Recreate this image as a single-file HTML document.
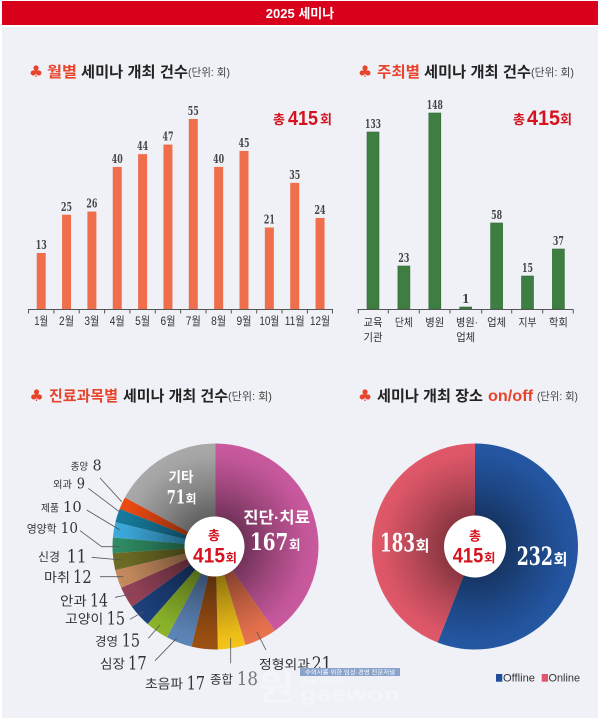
<!DOCTYPE html>
<html><head><meta charset="utf-8"><style>
html,body{margin:0;padding:0;background:#fff;}
svg{display:block;}
.kr{font-family:"Liberation Sans","Noto Sans CJK KR",sans-serif;}
.num{font-family:"DejaVu Serif Condensed","DejaVu Serif","Liberation Serif",serif;}
</style></head><body>
<svg width="600" height="718" viewBox="0 0 600 718" xmlns="http://www.w3.org/2000/svg">
<defs>
<radialGradient id="shL" gradientUnits="userSpaceOnUse" cx="215.5" cy="546.5" r="103">
<stop offset="0" stop-color="#000" stop-opacity="0.5"/>
<stop offset="0.3" stop-color="#000" stop-opacity="0.42"/>
<stop offset="0.6" stop-color="#000" stop-opacity="0.2"/>
<stop offset="0.88" stop-color="#000" stop-opacity="0.03"/>
<stop offset="1" stop-color="#000" stop-opacity="0"/>
</radialGradient>
<radialGradient id="shR" gradientUnits="userSpaceOnUse" cx="475" cy="546.5" r="103">
<stop offset="0" stop-color="#000" stop-opacity="0.5"/>
<stop offset="0.3" stop-color="#000" stop-opacity="0.38"/>
<stop offset="0.6" stop-color="#000" stop-opacity="0.18"/>
<stop offset="0.9" stop-color="#000" stop-opacity="0.02"/>
<stop offset="1" stop-color="#000" stop-opacity="0"/>
</radialGradient>
</defs>

<!-- background -->
<rect x="0" y="0" width="600" height="718" fill="#ffffff"/>
<rect x="2" y="1" width="596" height="24" fill="#d9001b"/>
<rect x="2" y="27" width="596" height="691" fill="#eff1f7"/>
<text x="300" y="18" text-anchor="middle" class="kr" font-size="13" font-weight="700" fill="#fff">2025 세미나</text>

<!-- ===== Titles ===== -->
<g class="kr" font-weight="700">
<text x="36" y="77" text-anchor="middle" font-family="DejaVu Sans,sans-serif" font-size="16" fill="#e8432b">♣</text>
<text x="47" y="77" font-size="15" fill="#e8432b" textLength="30" lengthAdjust="spacingAndGlyphs">월별</text>
<text x="81" y="77" font-size="15" fill="#222" textLength="107" lengthAdjust="spacingAndGlyphs">세미나 개최 건수</text>
<text x="188" y="76" font-size="11" font-weight="400" fill="#444" textLength="42" lengthAdjust="spacingAndGlyphs">(단위: 회)</text>

<text x="365" y="77" text-anchor="middle" font-family="DejaVu Sans,sans-serif" font-size="16" fill="#e8432b">♣</text>
<text x="377" y="77" font-size="15" fill="#e8432b" textLength="43" lengthAdjust="spacingAndGlyphs">주최별</text>
<text x="424" y="77" font-size="15" fill="#222" textLength="107" lengthAdjust="spacingAndGlyphs">세미나 개최 건수</text>
<text x="531" y="76" font-size="11" font-weight="400" fill="#444" textLength="43" lengthAdjust="spacingAndGlyphs">(단위: 회)</text>

<text x="36.5" y="401" text-anchor="middle" font-family="DejaVu Sans,sans-serif" font-size="16" fill="#e8432b">♣</text>
<text x="49" y="401" font-size="15" fill="#e8432b" textLength="69" lengthAdjust="spacingAndGlyphs">진료과목별</text>
<text x="123" y="401" font-size="15" fill="#222" textLength="105" lengthAdjust="spacingAndGlyphs">세미나 개최 건수</text>
<text x="228" y="400" font-size="11" font-weight="400" fill="#444" textLength="44" lengthAdjust="spacingAndGlyphs">(단위: 회)</text>

<text x="365" y="401" text-anchor="middle" font-family="DejaVu Sans,sans-serif" font-size="16" fill="#e8432b">♣</text>
<text x="377" y="401" font-size="15" fill="#222" textLength="106" lengthAdjust="spacingAndGlyphs">세미나 개최 장소</text>
<text x="488" y="401" font-size="16" fill="#e8432b" textLength="45" lengthAdjust="spacingAndGlyphs">on/off</text>
<text x="537" y="400" font-size="11" font-weight="400" fill="#444" textLength="41" lengthAdjust="spacingAndGlyphs">(단위: 회)</text>
</g>

<!-- ===== Top-left chart ===== -->
<g fill="#ef6f4c">
<rect x="36.7" y="253.0" width="9" height="56"/>
<rect x="62.05" y="214.75" width="9" height="94.25"/>
<rect x="87.4" y="211.56" width="9" height="97.44"/>
<rect x="112.75" y="166.9" width="9" height="142.1"/>
<rect x="138.1" y="154.14" width="9" height="154.86"/>
<rect x="163.45" y="144.57" width="9" height="164.43"/>
<rect x="188.8" y="119.0" width="9" height="190"/>
<rect x="214.15" y="166.9" width="9" height="142.1"/>
<rect x="239.5" y="150.95" width="9" height="158.05"/>
<rect x="264.85" y="227.51" width="9" height="81.49"/>
<rect x="290.2" y="182.85" width="9" height="126.15"/>
<rect x="315.55" y="217.94" width="9" height="91.06"/>
</g>
<g stroke="#555" stroke-width="1" fill="none">
<line x1="28" y1="309.5" x2="333" y2="309.5"/>
<path d="M28.5 309.5V313.5M53.9 309.5V313.5M79.2 309.5V313.5M104.6 309.5V313.5M129.9 309.5V313.5M155.3 309.5V313.5M180.6 309.5V313.5M206 309.5V313.5M231.3 309.5V313.5M256.7 309.5V313.5M282 309.5V313.5M307.4 309.5V313.5M332.5 309.5V313.5"/>
</g>
<g class="num" font-size="12" font-weight="700" fill="#444" text-anchor="middle">
<text x="41.2" y="249" textLength="11" lengthAdjust="spacingAndGlyphs">13</text>
<text x="66.55" y="210.75" textLength="11" lengthAdjust="spacingAndGlyphs">25</text>
<text x="91.9" y="207.56" textLength="11" lengthAdjust="spacingAndGlyphs">26</text>
<text x="117.25" y="162.9" textLength="11" lengthAdjust="spacingAndGlyphs">40</text>
<text x="142.6" y="150.14" textLength="11" lengthAdjust="spacingAndGlyphs">44</text>
<text x="167.95" y="140.57" textLength="11" lengthAdjust="spacingAndGlyphs">47</text>
<text x="193.3" y="115" textLength="11" lengthAdjust="spacingAndGlyphs">55</text>
<text x="218.65" y="162.9" textLength="11" lengthAdjust="spacingAndGlyphs">40</text>
<text x="244.0" y="146.95" textLength="11" lengthAdjust="spacingAndGlyphs">45</text>
<text x="269.35" y="223.51" textLength="11" lengthAdjust="spacingAndGlyphs">21</text>
<text x="294.7" y="178.85" textLength="11" lengthAdjust="spacingAndGlyphs">35</text>
<text x="320.05" y="213.94" textLength="11" lengthAdjust="spacingAndGlyphs">24</text>
</g>
<g class="kr" font-size="11.5" fill="#333" text-anchor="middle">
<text x="41.2" y="325" textLength="14" lengthAdjust="spacingAndGlyphs">1월</text>
<text x="66.55" y="325" textLength="15" lengthAdjust="spacingAndGlyphs">2월</text>
<text x="91.9" y="325" textLength="15" lengthAdjust="spacingAndGlyphs">3월</text>
<text x="117.25" y="325" textLength="15" lengthAdjust="spacingAndGlyphs">4월</text>
<text x="142.6" y="325" textLength="15" lengthAdjust="spacingAndGlyphs">5월</text>
<text x="167.95" y="325" textLength="15" lengthAdjust="spacingAndGlyphs">6월</text>
<text x="193.3" y="325" textLength="15" lengthAdjust="spacingAndGlyphs">7월</text>
<text x="218.65" y="325" textLength="15" lengthAdjust="spacingAndGlyphs">8월</text>
<text x="244.0" y="325" textLength="15" lengthAdjust="spacingAndGlyphs">9월</text>
<text x="269.35" y="325" textLength="20" lengthAdjust="spacingAndGlyphs">10월</text>
<text x="294.7" y="325" textLength="20" lengthAdjust="spacingAndGlyphs">11월</text>
<text x="320.05" y="325" textLength="20" lengthAdjust="spacingAndGlyphs">12월</text>
</g>
<g fill="#d5121e" font-weight="700">
<text x="273" y="124" class="kr" font-size="13" textLength="12" lengthAdjust="spacingAndGlyphs">총</text>
<text x="288" y="125" font-family="Liberation Sans,sans-serif" font-size="20" textLength="30" lengthAdjust="spacingAndGlyphs">415</text>
<text x="320" y="124" class="kr" font-size="13" textLength="12" lengthAdjust="spacingAndGlyphs">회</text>
<text x="513" y="124" class="kr" font-size="13" textLength="12" lengthAdjust="spacingAndGlyphs">총</text>
<text x="527" y="125" font-family="Liberation Sans,sans-serif" font-size="21" textLength="33" lengthAdjust="spacingAndGlyphs">415</text>
<text x="560" y="124" class="kr" font-size="13" textLength="12" lengthAdjust="spacingAndGlyphs">회</text>
</g>

<!-- ===== Top-right chart ===== -->
<g fill="#3f7e42" stroke="#2f6a33" stroke-width="0.6">
<rect x="367" y="132" width="12" height="177"/>
<rect x="397.9" y="266" width="12" height="43"/>
<rect x="428.8" y="113" width="12" height="196"/>
<rect x="459.7" y="307" width="12" height="2"/>
<rect x="490.6" y="223" width="12" height="86"/>
<rect x="521.5" y="276" width="12" height="33"/>
<rect x="552.4" y="249" width="12" height="60"/>
</g>
<g stroke="#555" stroke-width="1" fill="none">
<line x1="357.5" y1="309.5" x2="573.5" y2="309.5"/>
<path d="M358.3 309.5V313.5M388.3 309.5V313.5M419.3 309.5V313.5M450 309.5V313.5M481.7 309.5V313.5M511.7 309.5V313.5M542.7 309.5V313.5M573.3 309.5V313.5"/>
</g>
<g class="num" font-size="12" font-weight="700" fill="#444" text-anchor="middle">
<text x="373" y="128" textLength="16" lengthAdjust="spacingAndGlyphs">133</text>
<text x="403.9" y="262" textLength="11" lengthAdjust="spacingAndGlyphs">23</text>
<text x="434.8" y="109" textLength="16" lengthAdjust="spacingAndGlyphs">148</text>
<text x="465.7" y="303">1</text>
<text x="496.6" y="219" textLength="11" lengthAdjust="spacingAndGlyphs">58</text>
<text x="527.5" y="272" textLength="11" lengthAdjust="spacingAndGlyphs">15</text>
<text x="558.4" y="245" textLength="11" lengthAdjust="spacingAndGlyphs">37</text>
</g>
<g class="kr" font-size="11" fill="#333" text-anchor="middle">
<text x="373" y="326" textLength="19" lengthAdjust="spacingAndGlyphs">교육</text>
<text x="373" y="341" textLength="19" lengthAdjust="spacingAndGlyphs">기관</text>
<text x="403.9" y="326" textLength="18" lengthAdjust="spacingAndGlyphs">단체</text>
<text x="434.8" y="326" textLength="19" lengthAdjust="spacingAndGlyphs">병원</text>
<text x="467" y="326" textLength="22" lengthAdjust="spacingAndGlyphs">병원·</text>
<text x="465.7" y="341" textLength="19" lengthAdjust="spacingAndGlyphs">업체</text>
<text x="496.6" y="326" textLength="19" lengthAdjust="spacingAndGlyphs">업체</text>
<text x="527.5" y="326" textLength="18" lengthAdjust="spacingAndGlyphs">지부</text>
<text x="558.4" y="326" textLength="19" lengthAdjust="spacingAndGlyphs">학회</text>
</g>

<!-- ===== Left pie ===== -->
<g>
<path d="M215.5 546.5L215.5 443.5A103 103 0 0 1 274.78 630.73Z" fill="#c9599e"/>
<path d="M215.5 546.5L274.78 630.73A103 103 0 0 1 245.47 645.04Z" fill="#e8724e"/>
<path d="M215.5 546.5L245.47 645.04A103 103 0 0 1 217.84 649.47Z" fill="#f4c419"/>
<path d="M215.5 546.5L217.84 649.47A103 103 0 0 1 191.55 646.68Z" fill="#9c5012"/>
<path d="M215.5 546.5L191.55 646.68A103 103 0 0 1 166.84 637.28Z" fill="#5d85b8"/>
<path d="M215.5 546.5L166.84 637.28A103 103 0 0 1 147.64 623.99Z" fill="#8cb52a"/>
<path d="M215.5 546.5L147.64 623.99A103 103 0 0 1 131.95 606.73Z" fill="#1c407c"/>
<path d="M215.5 546.5L131.95 606.73A103 103 0 0 1 121.14 587.8Z" fill="#944258"/>
<path d="M215.5 546.5L121.14 587.8A103 103 0 0 1 115.23 570.08Z" fill="#c68b5f"/>
<path d="M215.5 546.5L115.23 570.08A103 103 0 0 1 112.71 553.12Z" fill="#6e6d25"/>
<path d="M215.5 546.5L112.71 553.12A103 103 0 0 1 112.89 537.54Z" fill="#2f8c64"/>
<path d="M215.5 546.5L112.89 537.54A103 103 0 0 1 115.41 522.17Z" fill="#3caadc"/>
<path d="M215.5 546.5L115.41 522.17A103 103 0 0 1 119.65 508.8Z" fill="#177a9c"/>
<path d="M215.5 546.5L119.65 508.8A103 103 0 0 1 124.91 497.49Z" fill="#ec4a12"/>
<path d="M215.5 546.5L124.91 497.49A103 103 0 0 1 215.5 443.5Z" fill="#a9a9a9"/>
<circle cx="215.5" cy="546.5" r="103" fill="url(#shL)"/>
<circle cx="214.5" cy="546.5" r="30" fill="#fff"/>
</g>
<g stroke="#555" stroke-width="0.8" fill="none">
<path d="M100 478L121.7 501.7"/>
<path d="M88.3 488.3L119.3 511.7"/>
<path d="M86.7 510L120 530"/>
<path d="M80 530.7L101.7 546.7H119.3"/>
<path d="M91.7 557.3L121.7 560"/>
<path d="M100 576.7H123.3"/>
<path d="M115 597.3L131.7 594"/>
<path d="M130 619.3L143.3 611.7"/>
<path d="M148.3 638.3L160 625"/>
<path d="M155 660.7L176.7 638.3"/>
<path d="M230.7 638.3V663.3"/>
<path d="M256.7 631.7L266 650"/>
</g>
<g class="kr" fill="#333">
<text x="70.7" y="470" font-size="10" textLength="17.3" lengthAdjust="spacingAndGlyphs">종양</text>
<text x="53" y="488" font-size="10" textLength="19" lengthAdjust="spacingAndGlyphs">외과</text>
<text x="41" y="511.5" font-size="10" textLength="18" lengthAdjust="spacingAndGlyphs">제품</text>
<text x="26.7" y="532.5" font-size="11" textLength="30" lengthAdjust="spacingAndGlyphs">영양학</text>
<text x="38" y="561" font-size="12" textLength="22" lengthAdjust="spacingAndGlyphs">신경</text>
<text x="44" y="582" font-size="13" textLength="26" lengthAdjust="spacingAndGlyphs">마취</text>
<text x="60" y="605.5" font-size="13" textLength="26.7" lengthAdjust="spacingAndGlyphs">안과</text>
<text x="65" y="623.5" font-size="13" textLength="38.3" lengthAdjust="spacingAndGlyphs">고양이</text>
<text x="95" y="645.5" font-size="12" textLength="23" lengthAdjust="spacingAndGlyphs">경영</text>
<text x="100" y="668.5" font-size="13" textLength="25" lengthAdjust="spacingAndGlyphs">심장</text>
<text x="145" y="688.5" font-size="13" textLength="38" lengthAdjust="spacingAndGlyphs">초음파</text>
<text x="210" y="683.5" font-size="12" textLength="23" lengthAdjust="spacingAndGlyphs">종합</text>
<text x="259" y="669" font-size="13" textLength="51" lengthAdjust="spacingAndGlyphs">정형외과</text>
</g>
<g class="num" fill="#333">
<text x="92.7" y="470.5" font-size="15" textLength="9" lengthAdjust="spacingAndGlyphs">8</text>
<text x="76.7" y="488.5" font-size="15" textLength="8.3" lengthAdjust="spacingAndGlyphs">9</text>
<text x="63" y="512" font-size="15" textLength="18.7" lengthAdjust="spacingAndGlyphs">10</text>
<text x="60.7" y="533" font-size="15" textLength="17.3" lengthAdjust="spacingAndGlyphs">10</text>
<text x="66.7" y="562.5" font-size="18" textLength="20" lengthAdjust="spacingAndGlyphs">11</text>
<text x="73" y="583" font-size="18" textLength="18.7" lengthAdjust="spacingAndGlyphs">12</text>
<text x="90" y="606.5" font-size="18" textLength="18" lengthAdjust="spacingAndGlyphs">14</text>
<text x="106.7" y="624.5" font-size="18" textLength="18.3" lengthAdjust="spacingAndGlyphs">15</text>
<text x="121.7" y="646.5" font-size="18" textLength="18.3" lengthAdjust="spacingAndGlyphs">15</text>
<text x="128" y="669.5" font-size="19" textLength="18.7" lengthAdjust="spacingAndGlyphs">17</text>
<text x="186.7" y="689.5" font-size="19" textLength="18.3" lengthAdjust="spacingAndGlyphs">17</text>
<text x="236.7" y="685" font-size="19" textLength="21.3" lengthAdjust="spacingAndGlyphs" fill="#777">18</text>
<text x="311.7" y="670" font-size="19" textLength="20" lengthAdjust="spacingAndGlyphs">21</text>
</g>
<g fill="#fff" font-weight="700">
<text x="181" y="482" class="kr" font-size="14" text-anchor="middle" textLength="25" lengthAdjust="spacingAndGlyphs">기타</text>
<text x="166.7" y="503.3" class="num" font-size="19" textLength="18.3" lengthAdjust="spacingAndGlyphs">71</text>
<text x="185.5" y="503" class="kr" font-size="12" textLength="11" lengthAdjust="spacingAndGlyphs">회</text>
<text x="243.3" y="523" class="kr" font-size="16" textLength="66.7" lengthAdjust="spacingAndGlyphs">진단·치료</text>
<text x="250" y="550" class="num" font-size="23" textLength="38.3" lengthAdjust="spacingAndGlyphs">167</text>
<text x="289" y="549.5" class="kr" font-size="13" textLength="11.5" lengthAdjust="spacingAndGlyphs">회</text>
</g>
<g fill="#d5121e" font-weight="700">
<text x="214" y="540" class="kr" font-size="13" text-anchor="middle">총</text>
<text x="193" y="562.5" font-family="Liberation Sans,sans-serif" font-size="21" textLength="32" lengthAdjust="spacingAndGlyphs">415</text>
<text x="225.5" y="562" class="kr" font-size="12" textLength="11.5" lengthAdjust="spacingAndGlyphs">회</text>
</g>

<!-- ===== Right pie ===== -->
<g>
<path d="M475 546.5L475 443.5A103 103 0 1 1 437.66 642.5Z" fill="#2456a2"/>
<path d="M475 546.5L437.66 642.5A103 103 0 0 1 475 443.5Z" fill="#e0586a"/>
<circle cx="475" cy="546.5" r="103" fill="url(#shR)"/>
<circle cx="475" cy="546.5" r="31" fill="#fff"/>
</g>
<g fill="#fff" font-weight="700">
<text x="380" y="551.5" class="num" font-size="25" textLength="35" lengthAdjust="spacingAndGlyphs">183</text>
<text x="415.5" y="551" class="kr" font-size="15" textLength="14" lengthAdjust="spacingAndGlyphs">회</text>
<text x="516.7" y="565" class="num" font-size="25" textLength="36.3" lengthAdjust="spacingAndGlyphs">232</text>
<text x="553.5" y="564.5" class="kr" font-size="15" textLength="14" lengthAdjust="spacingAndGlyphs">회</text>
</g>
<g fill="#d5121e" font-weight="700">
<text x="475" y="540.5" class="kr" font-size="13" text-anchor="middle">총</text>
<text x="452.7" y="562.5" font-family="Liberation Sans,sans-serif" font-size="21" textLength="30.6" lengthAdjust="spacingAndGlyphs">415</text>
<text x="484" y="562" class="kr" font-size="12" textLength="11.5" lengthAdjust="spacingAndGlyphs">회</text>
</g>

<!-- legend -->
<rect x="496" y="674" width="6.3" height="7.7" fill="#1f4e9a"/>
<text x="503" y="681.5" font-family="Liberation Sans,sans-serif" font-size="11" fill="#333" textLength="32" lengthAdjust="spacingAndGlyphs">Offline</text>
<rect x="541.7" y="674" width="6.3" height="7.7" fill="#e0566a"/>
<text x="548.5" y="681.5" font-family="Liberation Sans,sans-serif" font-size="11" fill="#333" textLength="31.5" lengthAdjust="spacingAndGlyphs">Online</text>

<!-- watermark -->
<rect x="300" y="668" width="100" height="8" fill="#8aa3cc"/>
<text x="350" y="674.3" text-anchor="middle" class="kr" font-size="6" fill="#fff" textLength="90" lengthAdjust="spacingAndGlyphs">수의사를 위한 임상·경영 전문저널</text>
<g fill="#fff" opacity="0.35" font-family="Liberation Sans,sans-serif" font-weight="700">
<text x="300" y="685" font-size="9" textLength="45" lengthAdjust="spacingAndGlyphs">the daily</text>
<text x="300" y="701" font-size="20" textLength="100" lengthAdjust="spacingAndGlyphs">gaewon</text>
<text x="258" y="700" class="kr" font-size="34" textLength="36" lengthAdjust="spacingAndGlyphs">원</text>
</g>
</svg>
</body></html>
